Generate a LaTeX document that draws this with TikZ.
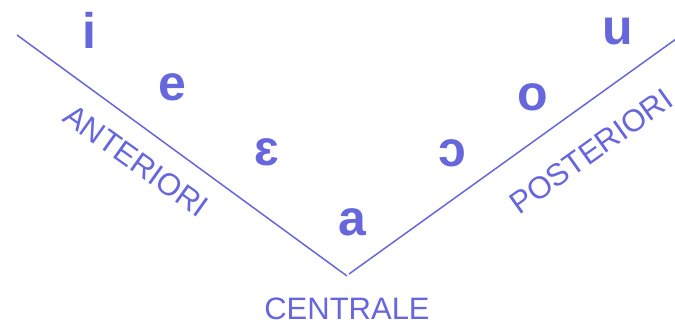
\documentclass[tikz,border=0pt]{standalone}
\usepackage{fontspec}
\setmainfont{Liberation Sans}
\usepackage{tikz}
\definecolor{vowel}{RGB}{102,102,221}

\begin{document}
\begin{tikzpicture}[x=1pt, y=-1pt,
  phone/.style={text=vowel, font=\fontsize{50}{50}\selectfont\bfseries, inner sep=0pt},
  side/.style={text=vowel, font=\fontsize{31}{31}\selectfont, inner sep=0pt},
  edge/.style={draw=vowel, line width=1.5pt}]
\useasboundingbox (0,0) rectangle (675,322);
% the two arms of the trapezium
\coordinate (ltop) at (17,35);
\coordinate (lbot) at (347,276);
\coordinate (rbot) at (349,274);
\coordinate (rtop) at (676,39);
\draw[edge] (ltop) -- (lbot);
\draw[edge] (rbot) -- (rtop);
% vowels
\node[phone] (i) at (89,30) {i};
\node[phone] (e) at (172,87) {e};
\node[phone] (eps) at (267,152) {ɛ};
\node[phone] (a) at (352,222) {a};
\node[phone] (oo) at (452,153) {ɔ};
\node[phone] (o) at (533,97) {o};
\node[phone] (u) at (618,32) {u};
% labels
\node[side, rotate=-35.5] (ant) at (136,161) {ANTERIORI};
\node[side, rotate=35.5] (post) at (591,151) {POSTERIORI};
\node[side] (cent) at (347,309) {CENTRALE};
\end{tikzpicture}
\end{document}
